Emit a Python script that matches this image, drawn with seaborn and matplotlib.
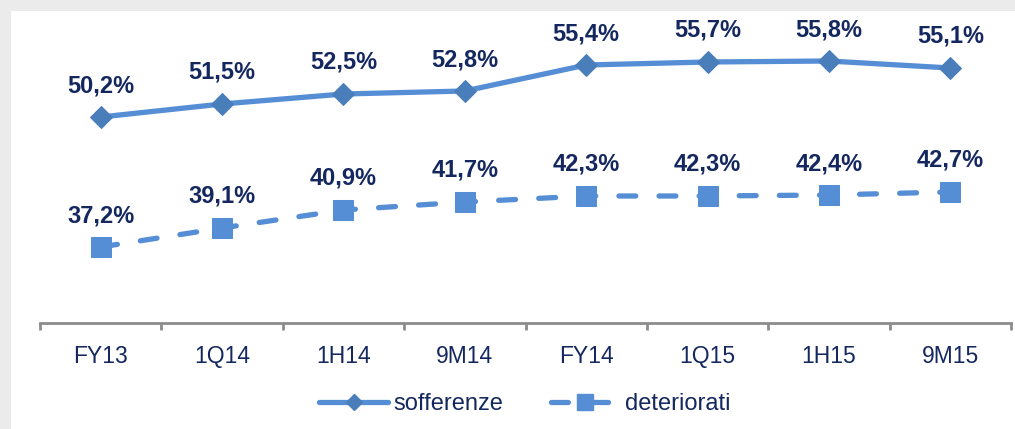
import matplotlib
matplotlib.use("Agg")
import matplotlib.pyplot as plt
import matplotlib.patches as mpatches
from matplotlib.lines import Line2D
import seaborn as sns
import pandas as pd

categories = ["FY13", "1Q14", "1H14", "9M14", "FY14", "1Q15", "1H15", "9M15"]
sofferenze = [50.2, 51.5, 52.5, 52.8, 55.4, 55.7, 55.8, 55.1]
deteriorati = [37.2, 39.1, 40.9, 41.7, 42.3, 42.3, 42.4, 42.7]
series_names = ["sofferenze", "deteriorati"]

sns.set_theme(style="white")
plt.rcParams['font.family'] = ['Liberation Sans', 'DejaVu Sans']

LINE = "#558ED5"
DIAM = "#4A7EBB"
NAVY = "#14285F"

W, H = 1015, 429
fig = plt.figure(figsize=(W / 100, H / 100), dpi=100)
fig.patch.set_facecolor("#EBEBEB")
fig.patches.append(mpatches.Rectangle((11 / W, 0), 1 - 11 / W, (H - 11) / H,
                                      transform=fig.transFigure, facecolor="white",
                                      edgecolor="none", zorder=-5))

ax = fig.add_axes([40 / W, 106 / H, (1011 - 40) / W, 304 / H])
ax.set_facecolor("none")
ax.set_zorder(2)

df = pd.DataFrame({"cat": categories, "idx": range(len(categories)),
                   series_names[0]: sofferenze, series_names[1]: deteriorati})

sns.lineplot(data=df, x="idx", y=series_names[0], ax=ax, color=LINE, lw=3.8,
             marker="D", markersize=11, markerfacecolor=DIAM, markeredgecolor=DIAM,
             solid_capstyle="round", zorder=3)
sns.lineplot(data=df, x="idx", y=series_names[1], ax=ax, color=LINE, lw=3.8,
             marker="s", markersize=14, markerfacecolor=LINE, markeredgecolor=LINE,
             dashes=(3.2, 4.4), dash_capstyle="round", zorder=3)

for series in (sofferenze, deteriorati):
    for i, v in enumerate(series):
        ax.annotate(f"{v:.1f}%".replace(".", ","), (i, v), xytext=(0, 18),
                    textcoords="offset points", ha="center", va="baseline",
                    fontsize=17, fontweight="bold", color=NAVY)

ax.set_xlim(-0.5, len(categories) - 0.5)
ax.set_ylim(29.6, 60.0)
ax.set_yticks([])
ax.set_xticks(range(len(categories)))
ax.set_xticklabels(categories, fontsize=16.5, color=NAVY)
ax.tick_params(axis="x", which="major", bottom=True, length=0, pad=16)
ax.set_xticks([i - 0.5 for i in range(len(categories) + 1)], minor=True)
ax.tick_params(axis="x", which="minor", bottom=True, length=5, width=2,
               color="#8C8C8C", direction="out")
ax.set_xlabel("")
ax.set_ylabel("")
for s in ["top", "right", "left"]:
    ax.spines[s].set_visible(False)
ax.spines["bottom"].set_color("#8C8C8C")
ax.spines["bottom"].set_linewidth(2)

handles = [
    Line2D([], [], color=LINE, lw=3.8, marker="D", markersize=8.5,
           markerfacecolor=DIAM, markeredgecolor=DIAM, solid_capstyle="round"),
    Line2D([], [], color=LINE, lw=3.8, marker="s", markersize=12,
           markerfacecolor=LINE, markeredgecolor=LINE, dashes=(3.2, 4.4), dash_capstyle="round"),
]
leg = fig.legend(handles, series_names, loc="center", bbox_to_anchor=(525 / W, 1 - 404 / H),
                 ncol=2, frameon=False, fontsize=17, handlelength=2.9,
                 handletextpad=0.25, columnspacing=2.0)
for t in leg.get_texts():
    t.set_color(NAVY)

fig.savefig("out.png", dpi=100, facecolor=fig.get_facecolor())
